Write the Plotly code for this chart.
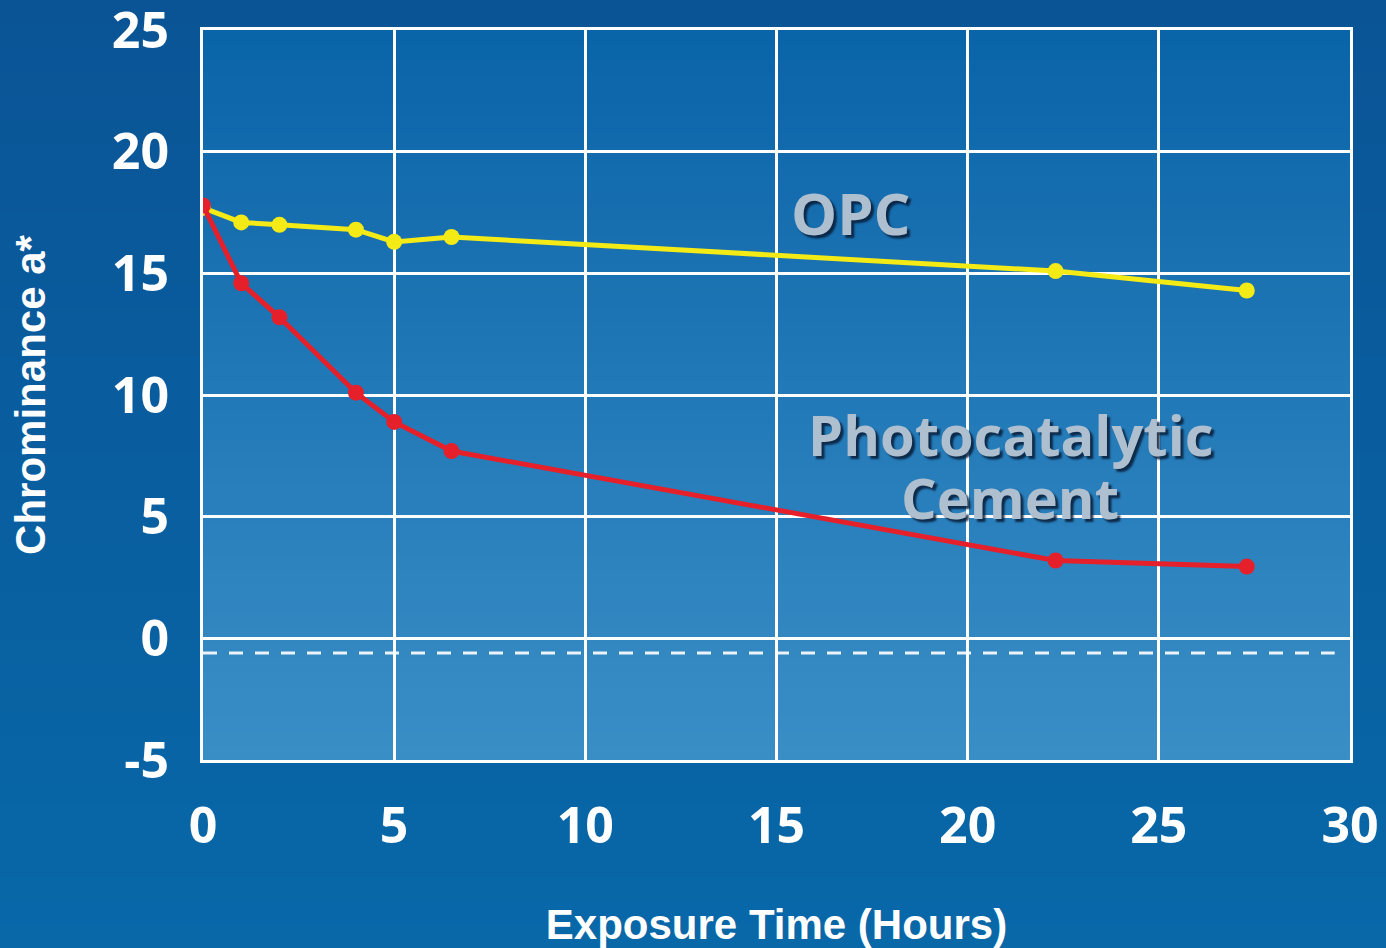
import plotly.graph_objects as go

# ---- data ----
hours = [0, 1, 2, 4, 5, 6.5, 22.3, 27.3]
opc = [17.7, 17.1, 17.0, 16.8, 16.3, 16.5, 15.1, 14.3]
photo = [17.8, 14.6, 13.2, 10.1, 8.9, 7.7, 3.2, 2.95]
baseline_x = [0, 29.6]
baseline_y = [-0.6, -0.6]
x_ticks = [0, 5, 10, 15, 20, 25, 30]
x_labels = ["0", "5", "10", "15", "20", "25", "30"]
y_ticks = [-5, 0, 5, 10, 15, 20, 25]
y_labels = ["-5", "0", "5", "10", "15", "20", "25"]

W, H = 1386, 948
L, R, T, B = 203, 36, 30, 188

fig = go.Figure()

fig.add_trace(go.Scatter(x=baseline_x, y=baseline_y, mode="lines",
                         line=dict(color="rgba(255,255,255,0.9)", width=3, dash="14px,12px"),
                         hoverinfo="skip", showlegend=False))
fig.add_trace(go.Scatter(x=hours, y=opc, mode="lines+markers", name="OPC",
                         line=dict(color="#f4ea16", width=5),
                         marker=dict(color="#f4ea16", size=16), showlegend=False))
fig.add_trace(go.Scatter(x=hours, y=photo, mode="lines+markers", name="Photocatalytic Cement",
                         line=dict(color="#e5202b", width=5),
                         marker=dict(color="#e5202b", size=16), showlegend=False))

def lerp(c1, c2, t):
    return "rgb(%d,%d,%d)" % tuple(round(a + (b - a) * t) for a, b in zip(c1, c2))

shapes = []
# paper gradient
n = 40
top_p, bot_p = (10, 84, 150), (8, 104, 168)
y0p, y1p = -B / (H - T - B), 1 + T / (H - T - B)
step = (y1p - y0p) / n
for i in range(n):
    a = y1p - step * i
    b = a - step * 1.6
    shapes.append(dict(type="rect", xref="paper", yref="paper",
                       x0=-L / (W - L - R), x1=1 + R / (W - L - R), y0=max(b, y0p), y1=a,
                       fillcolor=lerp(top_p, bot_p, i / (n - 1)), line=dict(width=0), layer="below"))
# plot-area gradient
n = 50
top_c, bot_c = (10, 100, 168), (58, 142, 198)
for i in range(n):
    a = 1 - i / n
    b = max(0, a - 1.6 / n)
    shapes.append(dict(type="rect", xref="paper", yref="paper", x0=0, x1=1, y0=b, y1=a,
                       fillcolor=lerp(top_c, bot_c, i / (n - 1)), line=dict(width=0), layer="below"))

lab_font = "Open Sans"
label_color = "#aebfcf"
shadow = "3px 3px 2px rgba(8,28,55,0.85)"
annots = []
for txt, x, y, size in [("OPC", 16.95, 17.5, 58),
                        ("Photocatalytic", 21.14, 8.4, 56),
                        ("Cement", 21.1, 5.8, 56)]:
    annots.append(dict(x=x, y=y, xref="x", yref="y", text=txt, showarrow=False,
                       font=dict(family=lab_font, size=size, color=label_color, weight="bold",
                                 shadow=shadow)))

fig.update_layout(
    width=W, height=H,
    margin=dict(l=L, r=R, t=T, b=B),
    paper_bgcolor="#0a5fa0",
    plot_bgcolor="#1a78b8",
    shapes=shapes,
    annotations=annots,
    xaxis=dict(range=[0, 30], tickvals=x_ticks, ticktext=x_labels, showgrid=True,
               gridcolor="white", gridwidth=3, automargin=False,
               zeroline=False, showline=True, linecolor="white", linewidth=3, mirror=True,
               ticks="", ticklabelstandoff=20, ticklabeloverflow="allow",
               tickfont=dict(family=lab_font, size=50, color="white", weight="bold"),
               title=dict(text="Exposure Time (Hours)", standoff=62,
                          font=dict(family="Liberation Sans", size=42, color="white", weight="bold"))),
    yaxis=dict(range=[-5, 25.01], tickvals=y_ticks, ticktext=y_labels, showgrid=True,
               gridcolor="white", gridwidth=3, automargin=False,
               zeroline=False, showline=True, linecolor="white", linewidth=3, mirror=True,
               ticks="", ticklabelstandoff=21, ticklabeloverflow="allow",
               tickfont=dict(family=lab_font, size=50, color="white", weight="bold"),
               title=dict(text="Chrominance a*", standoff=54,
                          font=dict(family="Liberation Sans", size=42, color="white", weight="bold"))),
)

fig.write_html("out.html")
